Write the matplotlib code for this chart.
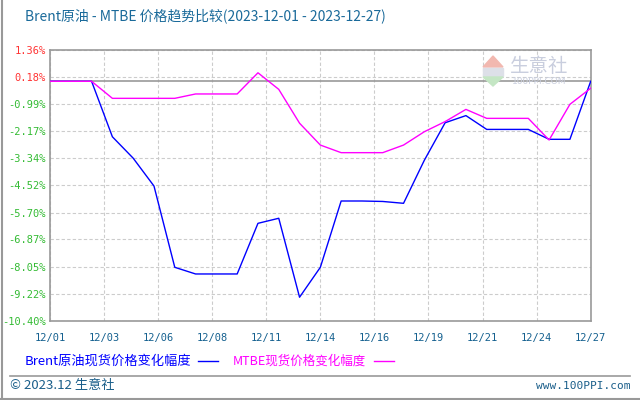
import matplotlib
matplotlib.use("Agg")
import matplotlib.pyplot as plt
from matplotlib.patches import Polygon, Rectangle
from matplotlib.lines import Line2D

# 日期（12 月的日）与两条变化幅度曲线 (%)
days = list(range(1, 28))
brent = [0, 0, 0, -2.41, -3.34, -4.55, -8.08, -8.37, -8.37, -8.37,
         -6.17, -5.95, -9.38, -8.08, -5.20, -5.20, -5.22, -5.30, -3.43, -1.80,
         -1.49, -2.09, -2.09, -2.09, -2.52, -2.52, 0]
mtbe = [0, 0, 0, -0.74, -0.74, -0.74, -0.74, -0.55, -0.55, -0.55,
        0.37, -0.35, -1.82, -2.77, -3.10, -3.10, -3.10, -2.77, -2.19, -1.75,
        -1.22, -1.61, -1.61, -1.61, -2.55, -1.00, -0.30]

y_ticks = [1.36, 0.18, -0.99, -2.17, -3.34, -4.52, -5.70, -6.87, -8.05, -9.22, -10.40]
y_labels = ["1.36%", "0.18%", "-0.99%", "-2.17%", "-3.34%", "-4.52%",
            "-5.70%", "-6.87%", "-8.05%", "-9.22%", "-10.40%"]
x_ticks = [1, 3.6, 6.2, 8.8, 11.4, 14, 16.6, 19.2, 21.8, 24.4, 27]
x_labels = ["12/01", "12/03", "12/06", "12/08", "12/11", "12/14",
            "12/16", "12/19", "12/21", "12/24", "12/27"]

title = "Brent原油 - MTBE 价格趋势比较(2023-12-01 - 2023-12-27)"
legend_names = ["Brent原油现货价格变化幅度", "MTBE现货价格变化幅度"]

CJK = ["Noto Sans CJK SC", "DejaVu Sans"]
MONO = ["DejaVu Sans Mono", "Noto Sans CJK SC"]
W, H = 640, 400


def px(x, y):
    return x / W, 1 - y / H


fig = plt.figure(figsize=(6.4, 4.0), dpi=100)
ax = fig.add_axes([50 / W, 1 - 320.7 / H, 540.7 / W, 270.7 / H])

ax.axhline(0, color="#999999", lw=1.2, zorder=2)
ax.plot(days, brent, color="#0000ff", lw=1.0, zorder=3)
ax.plot(days, mtbe, color="#ff00ff", lw=1.0, zorder=4)

ax.set_xlim(1, 27)
ax.set_ylim(-10.40, 1.36)
ax.set_xticks(x_ticks)
ax.set_xticklabels(x_labels, family=MONO, fontsize=7.5, color="#14608f")
ax.set_yticks(y_ticks)
ax.set_yticklabels(y_labels, family=MONO, fontsize=7.5)
for lab in ax.get_yticklabels():
    lab.set_color("#ff3333" if not lab.get_text().startswith("-") else "#33bb33")
ax.tick_params(axis="both", length=0)
ax.tick_params(axis="y", pad=3)
ax.tick_params(axis="x", pad=9)
ax.grid(True, color="#cccccc", lw=0.8, linestyle=(0, (3, 2)))
for sp in ax.spines.values():
    sp.set_color("#999999")
    sp.set_linewidth(1.2)

# 水印
fig.patches.append(Polygon([px(493, 56), px(483, 67), px(503, 67)], closed=True,
                           transform=fig.transFigure, color="#f2b8b0", zorder=0))
fig.patches.append(Rectangle(px(483, 76), 20 / W, 8 / H, transform=fig.transFigure,
                             color="#dde0e8", zorder=0))
fig.patches.append(Polygon([px(483, 77), px(503, 77), px(493, 86)], closed=True,
                           transform=fig.transFigure, color="#c4e6c4", zorder=0))
fig.text(*px(510, 66), "生意社", family=CJK, fontsize=14, color="#c9cede",
         ha="left", va="center", zorder=0)
fig.text(*px(512, 81), "100PPI.COM", family=["DejaVu Sans"], fontsize=6.5,
         color="#c9cede", ha="left", va="center", zorder=0)

fig.text(*px(25, 16), title, family=CJK, fontsize=10, color="#1a6a9a",
         ha="left", va="center")

# 图例
fig.text(*px(25, 361), legend_names[0], family=CJK, fontsize=9.5, color="#0000ff",
         ha="left", va="center")
fig.add_artist(Line2D([198 / W, 218 / W], [1 - 361 / H] * 2, color="#0000ff", lw=1.0))
fig.text(*px(233, 361), legend_names[1], family=CJK, fontsize=9, color="#ff00ff",
         ha="left", va="center")
fig.add_artist(Line2D([374 / W, 394 / W], [1 - 361 / H] * 2, color="#ff00ff", lw=1.0))

# 底部
fig.add_artist(Line2D([10 / W, 630 / W], [1 - 376 / H] * 2, color="#999999", lw=1.2))
fig.text(*px(10, 386), "© 2023.12 生意社", family=CJK, fontsize=9.5, color="#1a5e8a",
         ha="left", va="center")
fig.text(*px(630, 386), "www.100PPI.com", family=MONO, fontsize=8, color="#1a5e8a",
         ha="right", va="center")
fig.add_artist(Line2D([1.5 / W, 1.5 / W], [0, 1], color="#999999", lw=1.5))
fig.add_artist(Line2D([0, 1], [1.5 / H, 1.5 / H], color="#999999", lw=1.5))

fig.savefig("out.png", dpi=100)
plt.close(fig)
